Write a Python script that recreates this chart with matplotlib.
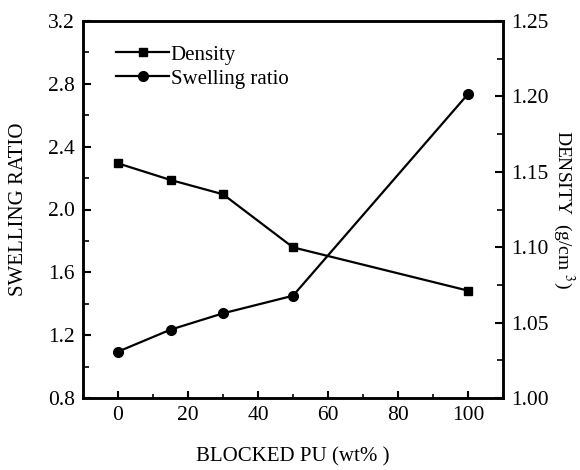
import numpy as np
import matplotlib.pyplot as plt
from matplotlib.ticker import MultipleLocator

plt.rcParams['font.family'] = ['Liberation Serif', 'DejaVu Serif']
plt.rcParams['mathtext.fontset'] = 'stix'

# data
blocked_pu = [0, 15, 30, 50, 100]
swelling = [1.095, 1.235, 1.339, 1.451, 2.735]
density = [1.1556, 1.1446, 1.1351, 1.0999, 1.0712]

fig = plt.figure(figsize=(5.8, 4.7), dpi=100)
ax = fig.add_axes([83 / 580, 1 - 398 / 470, 420 / 580, 377 / 470])
ax2 = ax.twinx()

l2, = ax2.plot(blocked_pu, density, color='black', lw=1.6, marker='s',
               ms=6, label='Density')
l1, = ax.plot(blocked_pu, swelling, color='black', lw=1.6, marker='o',
              ms=7, label='Swelling ratio')

ax.set_xlim(-10, 110)
ax.set_ylim(0.8, 3.2)
ax2.set_ylim(1.00, 1.25)
ax.xaxis.set_major_locator(MultipleLocator(20))
ax.xaxis.set_minor_locator(MultipleLocator(10))
ax.yaxis.set_major_locator(MultipleLocator(0.4))
ax.yaxis.set_minor_locator(MultipleLocator(0.2))
ax2.yaxis.set_major_locator(MultipleLocator(0.05))
ax2.yaxis.set_minor_locator(MultipleLocator(0.025))
ax.yaxis.set_major_formatter(plt.FormatStrFormatter('%.1f'))
ax2.yaxis.set_major_formatter(plt.FormatStrFormatter('%.2f'))

for a in (ax, ax2):
    for s in a.spines.values():
        s.set_linewidth(1.8)
    a.tick_params(which='major', direction='in', length=6, width=1.5,
                  labelsize=15.5, pad=6)
    a.tick_params(which='minor', direction='in', length=4, width=1.2)
ax.tick_params(axis='x', which='major', length=5)
ax.tick_params(axis='x', which='minor', length=3)

ax.set_xlabel('BLOCKED PU (wt% )', fontsize=15, labelpad=16)
ax.set_ylabel('SWELLING RATIO', fontsize=15, labelpad=14)
ax2.set_ylabel('DENSITY  (g/cm $^3$)', fontsize=14, rotation=270,
               va='center', ha='center')
ax2.yaxis.set_label_coords(1.145, 0.5)

ax.legend([l2, l1], ['Density', 'Swelling ratio'], loc='upper left',
          frameon=False, fontsize=15, handlelength=2.5, handletextpad=0.1,
          labelspacing=0.2, borderaxespad=0.4, bbox_to_anchor=(0.04, 0.98))

fig.savefig('out.png', dpi=100)
